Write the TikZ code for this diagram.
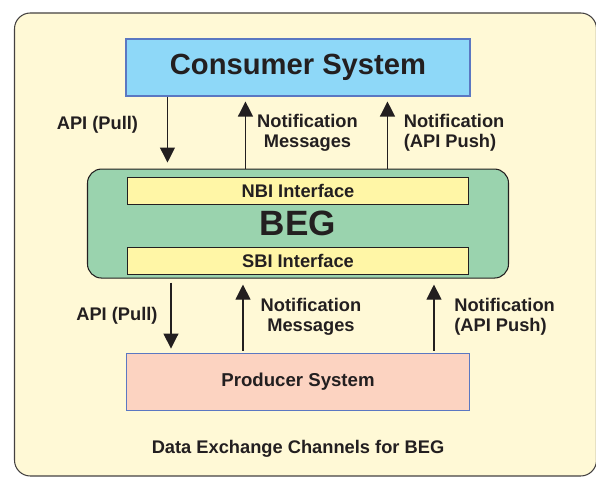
\documentclass[tikz,border=0pt]{standalone}
\usepackage{fontspec}
\setmainfont{Liberation Sans}
\usetikzlibrary{calc,positioning,arrows.meta}

\definecolor{framefill}{HTML}{FFF9D6}
\definecolor{consfill}{HTML}{8ED8F8}
\definecolor{begfill}{HTML}{9AD3AE}
\definecolor{ifacefill}{HTML}{FFF6A6}
\definecolor{prodfill}{HTML}{FCD3C1}
\definecolor{boxedge}{HTML}{5B78C2}
\definecolor{inkgray}{HTML}{231F20}

\begin{document}
\begin{tikzpicture}[
    every node/.style={text=inkgray},
    frame/.style={rectangle, draw=inkgray!85, line width=0.6pt, fill=framefill, minimum width=11.64cm, minimum height=9.26cm, rounded corners=9pt},
    sysbox/.style={rectangle, draw=boxedge, line width=0.6pt, minimum width=6.88cm, minimum height=1.14cm},
    begbox/.style={rectangle, draw=inkgray, line width=0.6pt, fill=begfill, minimum width=8.42cm, minimum height=2.18cm, rounded corners=8pt},
    iface/.style={rectangle, draw=inkgray, line width=0.6pt, fill=ifacefill, minimum width=6.82cm, minimum height=0.54cm, inner sep=0pt, font=\fontsize{10.4}{12}\selectfont\bfseries},
    arrow/.style={-{Triangle[length=3mm, width=3mm]}, line width=0.6pt, inkgray},
    chlabel/.style={font=\fontsize{10.4}{11.6}\selectfont\bfseries, align=center, inner sep=0pt},
]

\useasboundingbox (0,0) rectangle (11.92,-9.54);

% Background frame
\node[frame] (frame-bg) at (6.11,-4.89) {};

% Consumer system
\node[sysbox, fill=consfill, font=\fontsize{16.6}{18}\selectfont\bfseries] (cons) at (5.96,-1.35) {Consumer System};

% BEG with its two interfaces
\node[begbox, below=1.44cm of cons] (beg) {};
\node[iface, below=0.16cm of beg.north] (nbi) {NBI Interface};
\node[iface, above=0.08cm of beg.south] (sbi) {SBI Interface};
\node[font=\fontsize{20}{22}\selectfont\bfseries] (beg-label) at (beg.center) {BEG};

% Producer system
\node[sysbox, fill=prodfill, minimum width=6.86cm, below=1.48cm of beg, font=\fontsize{10.6}{12}\selectfont\bfseries] (prod) {Producer System};

% Consumer side channels
\draw[arrow, shorten >=0.12cm] ([xshift=0.84cm]cons.south west) -- ([xshift=0.84cm]cons.south west |- beg.north);
\draw[arrow, shorten >=0.1cm] ([xshift=2.4cm]cons.south west |- beg.north) -- ([xshift=2.4cm]cons.south west);
\draw[arrow, shorten >=0.1cm] ([xshift=5.24cm]cons.south west |- beg.north) -- ([xshift=5.24cm]cons.south west);

\node[chlabel] (pull-up) at ($(cons.south west)+(-0.56,-0.56)$) {API (Pull)};
\node[chlabel] (msg-up) at ($(cons.south west)+(3.64,-0.72)$) {Notification\\Messages};
\node[chlabel, anchor=west, align=left] (push-up) at ($(cons.south west)+(5.56,-0.72)$) {Notification\\(API Push)};

% Producer side channels
\draw[arrow, shorten <=0.08cm, shorten >=0.08cm] ([xshift=0.9cm]prod.north west |- beg.south) -- ([xshift=0.9cm]prod.north west);
\draw[arrow, shorten <=0.04cm, shorten >=0.12cm] ([xshift=2.34cm]prod.north west) -- ([xshift=2.34cm]prod.north west |- beg.south);
\draw[arrow, shorten <=0.04cm, shorten >=0.12cm] ([xshift=6.16cm]prod.north west) -- ([xshift=6.16cm]prod.north west |- beg.south);

\node[chlabel] (pull-down) at ($(prod.north west)+(-0.18,0.74)$) {API (Pull)};
\node[chlabel] (msg-down) at ($(prod.north west)+(3.7,0.72)$) {Notification\\Messages};
\node[chlabel, anchor=west, align=left] (push-down) at ($(prod.north west)+(6.56,0.72)$) {Notification\\(API Push)};

% Caption
\node[chlabel] (caption) at ($(prod.south)+(0,-0.77)$) {Data Exchange Channels for BEG};

\end{tikzpicture}
\end{document}
